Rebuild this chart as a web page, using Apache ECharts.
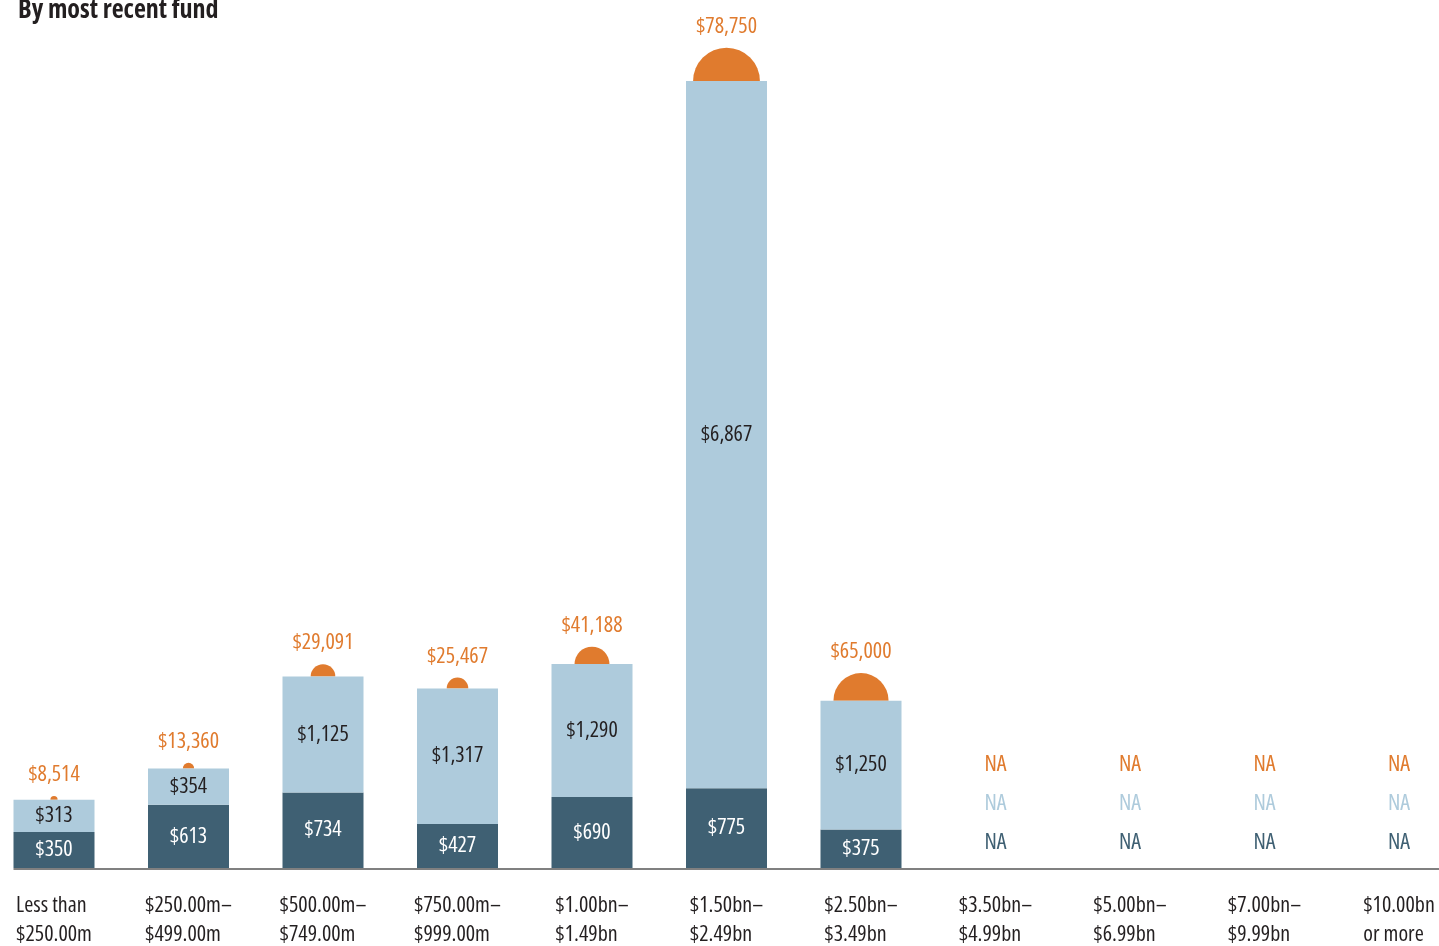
<!DOCTYPE html>
<html>
<head>
<meta charset="utf-8">
<title>By most recent fund</title>
<script src="https://cdn.jsdelivr.net/npm/echarts@6/dist/echarts.min.js"></script>
<style>
  html, body { margin: 0; padding: 0; background: #ffffff; }
  #chart { width: 1439px; height: 946px; }
</style>
</head>
<body>
<div id="chart"></div>
<script>
// Fund size buckets (x axis)
const categories = [
  'Less than\n$250.00m',
  '$250.00m–\n$499.00m',
  '$500.00m–\n$749.00m',
  '$750.00m–\n$999.00m',
  '$1.00bn–\n$1.49bn',
  '$1.50bn–\n$2.49bn',
  '$2.50bn–\n$3.49bn',
  '$3.50bn–\n$4.99bn',
  '$5.00bn–\n$6.99bn',
  '$7.00bn–\n$9.99bn',
  '$10.00bn\nor more'
];
// Lower (dark) segment of each stack; null = not available
const darkValues = [350, 613, 734, 427, 690, 775, 375, null, null, null, null];
// Upper (light) segment of each stack
const lightValues = [313, 354, 1125, 1317, 1290, 6867, 1250, null, null, null, null];
// Value shown by the orange half-disc on top of each stack
const orangeValues = [8514, 13360, 29091, 25467, 41188, 78750, 65000, null, null, null, null];

const DARK = '#3f6073';
const LIGHT = '#aecbdc';
const ORANGE = '#e07b2e';
const INK = '#231f20';
const FONT = "'Open Sans', 'Roboto Condensed', sans-serif";
const STRETCH = 'condensed';          // Open Sans is a variable font with a width axis
const FS = 22;
const MAX_DISC_RADIUS = 33.4;
const BAR_WIDTH = 81;

const fmt = v => '$' + v.toLocaleString('en-US');
const maxOrange = Math.max(...orangeValues.filter(v => v != null));
const textFont = STRETCH + ' ' + FS + 'px ' + FONT;

// Top-of-stack points carrying the orange value
const discData = [];
categories.forEach((c, i) => {
  if (orangeValues[i] != null) {
    discData.push([i, (darkValues[i] || 0) + (lightValues[i] || 0), orangeValues[i]]);
  }
});
// Buckets with no data get "NA" markers
const naData = [];
categories.forEach((c, i) => { if (darkValues[i] == null) naData.push([i, 0]); });

const chart = echarts.init(document.getElementById('chart'), null, { renderer: 'canvas' });

chart.setOption({
  animation: false,
  backgroundColor: '#ffffff',
  title: {
    text: 'By most recent fund',
    left: 13,
    top: -7,
    textStyle: { fontFamily: FONT, fontStyle: STRETCH, fontSize: 26, fontWeight: 'bold', color: INK }
  },
  grid: { left: -13.25, right: -27.25, top: 0, bottom: 78, containLabel: false, outerBoundsMode: 'none' },
  xAxis: {
    type: 'category',
    data: categories,
    axisLine: { show: false },
    axisTick: { show: false },
    axisLabel: {
      interval: 0,
      margin: 23,
      color: INK,
      fontFamily: FONT,
      fontStyle: STRETCH,
      fontSize: FS,
      lineHeight: 29,
      formatter: v => v.split('\n').map(s => '{l|' + s + '}').join('\n'),
      rich: { l: { fontFamily: FONT, fontStyle: STRETCH, fontSize: FS, lineHeight: 29, color: INK, align: 'left' } }
    }
  },
  yAxis: { type: 'value', min: 0, max: 8429, show: false, splitLine: { show: false } },
  series: [
    {
      name: 'baseline',
      type: 'custom',
      data: [[0, 0]],
      z: 1,
      silent: true,
      renderItem: (params, api) => {
        const p = api.coord([api.value(0), api.value(1)]);
        return {
          type: 'line',
          shape: { x1: p[0] - BAR_WIDTH / 2, y1: p[1] + 1, x2: api.getWidth(), y2: p[1] + 1 },
          style: { stroke: '#808080', lineWidth: 2 }
        };
      }
    },
    {
      name: 'dark',
      type: 'bar',
      stack: 'total',
      data: darkValues,
      barWidth: BAR_WIDTH,
      z: 3,
      itemStyle: { color: DARK },
      label: {
        show: true, position: 'inside', color: '#ffffff',
        fontFamily: FONT, fontStyle: STRETCH, fontSize: FS,
        formatter: p => fmt(p.value)
      }
    },
    {
      name: 'light',
      type: 'bar',
      stack: 'total',
      data: lightValues,
      barWidth: BAR_WIDTH,
      z: 3,
      itemStyle: { color: LIGHT },
      label: {
        show: true, position: 'inside', color: INK,
        fontFamily: FONT, fontStyle: STRETCH, fontSize: FS,
        formatter: p => fmt(p.value)
      }
    },
    {
      name: 'orange',
      type: 'custom',
      data: discData,
      z: 2,
      encode: { x: 0, y: 1 },
      renderItem: (params, api) => {
        const p = api.coord([api.value(0), api.value(1)]);
        const v = api.value(2);
        const r = MAX_DISC_RADIUS * v / maxOrange;
        return {
          type: 'group',
          children: [
            {
              type: 'sector',
              shape: { cx: p[0], cy: p[1], r0: 0, r: r, startAngle: Math.PI, endAngle: 2 * Math.PI, clockwise: true },
              style: { fill: ORANGE }
            },
            {
              type: 'text',
              x: p[0],
              y: p[1] - r - 21,
              style: { text: fmt(v), fill: ORANGE, font: textFont, align: 'center', verticalAlign: 'middle' }
            }
          ]
        };
      }
    },
    {
      name: 'na',
      type: 'custom',
      data: naData,
      z: 4,
      encode: { x: 0, y: 1 },
      renderItem: (params, api) => {
        const p = api.coord([api.value(0), api.value(1)]);
        const mk = (dy, color) => ({
          type: 'text', x: p[0], y: p[1] - dy,
          style: { text: 'NA', fill: color, font: textFont, align: 'center', verticalAlign: 'middle' }
        });
        return { type: 'group', children: [mk(25, DARK), mk(64, LIGHT), mk(103, ORANGE)] };
      }
    }
  ]
});
</script>
</body>
</html>
